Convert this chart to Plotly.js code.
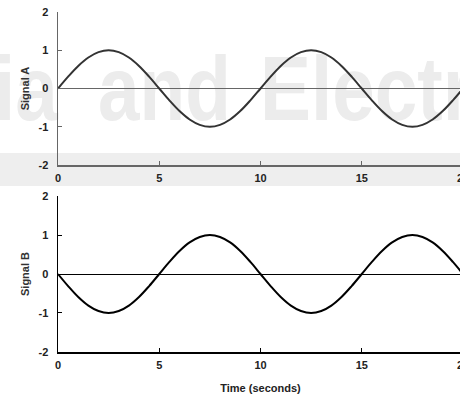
<!DOCTYPE html>
<html>
<head>
<meta charset="utf-8">
<script src="https://cdn.plot.ly/plotly-3.0.1.min.js"></script>
<style>
html,body{margin:0;padding:0;overflow:hidden;background:#fff;width:460px;height:398px;position:relative;}
#band{position:absolute;left:0;top:153px;width:460px;height:33px;background:#eeeeee;}
.wm{position:absolute;font-family:'Liberation Sans',Arial,sans-serif;font-weight:bold;font-size:90px;color:#ececec;line-height:1;white-space:nowrap;transform-origin:left top;}
#chart{position:absolute;left:0;top:0;width:470px;height:398px;}
</style>
</head>
<body>
<div id="band"></div>
<div class="wm" style="left:-6px;top:44px;transform:scaleX(0.85);">ia</div>
<div class="wm" style="left:98px;top:44px;transform:scaleX(0.83);">and</div>
<div class="wm" style="left:260px;top:44px;transform:scaleX(0.85);">Electr</div>
<div id="chart"></div>
<script>
var timeSec = [0,0.5,1,1.5,2,2.5,3,3.5,4,4.5,5,5.5,6,6.5,7,7.5,8,8.5,9,9.5,10,10.5,11,11.5,12,12.5,13,13.5,14,14.5,15,15.5,16,16.5,17,17.5,18,18.5,19,19.5,20];
var signalA = [0,0.31,0.59,0.81,0.95,1,0.95,0.81,0.59,0.31,0,-0.31,-0.59,-0.81,-0.95,-1,-0.95,-0.81,-0.59,-0.31,0,0.31,0.59,0.81,0.95,1,0.95,0.81,0.59,0.31,0,-0.31,-0.59,-0.81,-0.95,-1,-0.95,-0.81,-0.59,-0.31,0];
var signalB = [0,-0.31,-0.59,-0.81,-0.95,-1,-0.95,-0.81,-0.59,-0.31,0,0.31,0.59,0.81,0.95,1,0.95,0.81,0.59,0.31,0,-0.31,-0.59,-0.81,-0.95,-1,-0.95,-0.81,-0.59,-0.31,0,0.31,0.59,0.81,0.95,1,0.95,0.81,0.59,0.31,0];
var xTicks = [0,5,10,15,20];
var yTicks = [-2,-1,0,1,2];

var fontFam = 'Liberation Sans, Arial, sans-serif';

var traces = [
  {x: timeSec, y: signalA, xaxis:'x', yaxis:'y', mode:'lines', line:{color:'#333333', width:2, shape:'spline'}, hoverinfo:'skip'},
  {x: timeSec, y: signalB, xaxis:'x2', yaxis:'y2', mode:'lines', line:{color:'#000000', width:2, shape:'spline'}, hoverinfo:'skip'}
];

function xax(col, anchor, title){
  return {
    range:[0,20], tickvals:xTicks, ticktext:xTicks.map(String), ticks:'inside', ticklen:4, tickcolor:col,
    showline:true, linecolor:col, linewidth:1.5, showgrid:false, zeroline:false, mirror:false,
    anchor:anchor, tickfont:{family:fontFam, size:11, color:'#222', weight:'bold'},
    ticklabelstandoff:2,
    title: title ? {text:title, font:{family:fontFam, size:11, color:'#222', weight:'bold'}, standoff:14} : undefined
  };
}
function yax(col, domain, anchor, title){
  return {
    range:[-2,2], tickvals:yTicks, ticktext:yTicks.map(String), ticks:'inside', ticklen:4, tickcolor:col,
    showline:true, linecolor:col, linewidth:1.5, showgrid:false,
    zeroline:true, zerolinecolor:col, zerolinewidth:1,
    domain:domain, anchor:anchor, tickfont:{family:fontFam, size:11, color:'#222', weight:'bold'},
    ticklabelstandoff:6,
    title:{text:title, font:{family:fontFam, size:11, color:'#333', weight:'bold'}, standoff:6}
  };
}

var layout = {
  width:470, height:398,
  margin:{l:58, r:7, t:12, b:46},
  paper_bgcolor:'rgba(0,0,0,0)', plot_bgcolor:'rgba(0,0,0,0)',
  showlegend:false,
  xaxis: xax('#666666','y', null),
  yaxis: yax('#666666',[0.55,1],'x','Signal A'),
  xaxis2: xax('#000000','y2','Time (seconds)'),
  yaxis2: yax('#000000',[0,0.4588],'x2','Signal B')
};

Plotly.newPlot('chart', traces, layout, {staticPlot:true, displayModeBar:false});
</script>
</body>
</html>
